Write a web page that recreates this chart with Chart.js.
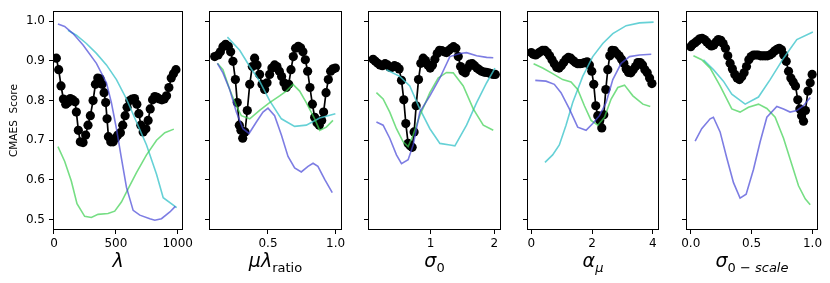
<!DOCTYPE html>
<html>
<head>
<meta charset="utf-8">
<script src="https://cdn.jsdelivr.net/npm/chart.js@4.4.1/dist/chart.umd.min.js"></script>
<style>
  html, body { margin: 0; padding: 0; background: #fff; }
  #wrap { position: relative; width: 830px; height: 283px; overflow: hidden; }
  #wrap canvas { position: absolute; top: 0; }
</style>
</head>
<body>
<div id="wrap"></div>
<script>
// ----- data -----
const yTicks = [0.5, 0.6, 0.7, 0.8, 0.9, 1.0];
const yTickLabels = ["0.5", "0.6", "0.7", "0.8", "0.9", "1.0"];
const yTitle = "CMAES  Score";

// lambda
const p1Ticks = [0, 500, 1000];
const p1TickLabels = ["0", "500", "1000"];
const p1BlackX = [19,38,57,76,95,113,132,151,170,181,197,213,235,256,275,294,316,335,354,373,389,405,418,429,440,459,478,497,516,537,556,575,591,613,632,651,670,686,702,721,743,761,778,797,815,834,853,872,891,910,929,948,966,986];
const p1BlackY = [0.907,0.878,0.837,0.804,0.791,0.795,0.805,0.802,0.797,0.771,0.725,0.696,0.694,0.713,0.738,0.762,0.800,0.841,0.857,0.855,0.841,0.820,0.795,0.754,0.709,0.696,0.696,0.705,0.713,0.719,0.738,0.762,0.783,0.800,0.804,0.805,0.791,0.767,0.738,0.721,0.729,0.750,0.779,0.802,0.810,0.808,0.804,0.802,0.804,0.812,0.833,0.857,0.868,0.878];
const p1CyanX = [113,181,262,343,424,505,586,667,748,829,883,992];
const p1CyanY = [0.977,0.965,0.944,0.919,0.890,0.853,0.804,0.746,0.688,0.614,0.555,0.530];
const p1GreenX = [32,86,140,186,248,302,356,437,491,545,599,667,748,829,896,969];
const p1GreenY = [0.684,0.647,0.597,0.540,0.508,0.505,0.513,0.515,0.521,0.544,0.577,0.618,0.663,0.700,0.719,0.728];
const p1PurpleX = [32,86,154,235,343,424,464,505,545,586,640,694,775,815,869,937,981];
const p1PurpleY = [0.993,0.987,0.969,0.940,0.894,0.845,0.795,0.729,0.655,0.581,0.523,0.511,0.502,0.498,0.502,0.519,0.533];

// mu lambda ratio
const p2Ticks = [0.5, 1.0];
const p2TickLabels = ["0.5", "1.0"];
const p2BlackX = [0.106,0.131,0.148,0.167,0.187,0.207,0.224,0.241,0.259,0.273,0.288,0.300,0.313,0.330,0.347,0.365,0.384,0.401,0.419,0.438,0.456,0.475,0.493,0.512,0.529,0.549,0.566,0.584,0.601,0.618,0.635,0.653,0.670,0.687,0.704,0.724,0.741,0.758,0.776,0.793,0.810,0.828,0.845,0.862,0.879,0.897,0.911,0.929,0.946,0.963,0.980,0.998];
const p2BlackY = [0.911,0.915,0.923,0.936,0.942,0.937,0.923,0.899,0.853,0.795,0.738,0.725,0.705,0.721,0.775,0.841,0.886,0.907,0.890,0.866,0.841,0.828,0.845,0.866,0.882,0.890,0.886,0.874,0.861,0.845,0.833,0.841,0.878,0.911,0.932,0.937,0.933,0.923,0.903,0.874,0.833,0.791,0.758,0.744,0.738,0.750,0.771,0.820,0.853,0.874,0.880,0.882];
const p2CyanX = [0.200,0.291,0.365,0.438,0.512,0.599,0.697,0.783,0.882,0.998];
const p2CyanY = [0.960,0.927,0.886,0.849,0.800,0.754,0.735,0.738,0.756,0.767];
const p2GreenX = [0.126,0.167,0.217,0.266,0.303,0.365,0.438,0.512,0.586,0.635,0.685,0.734,0.783,0.845,0.882,0.931,0.980];
const p2GreenY = [0.894,0.878,0.828,0.787,0.762,0.754,0.775,0.795,0.812,0.824,0.841,0.824,0.795,0.754,0.725,0.733,0.750];
const p2PurpleX = [0.126,0.167,0.217,0.266,0.315,0.360,0.414,0.463,0.500,0.549,0.599,0.648,0.697,0.746,0.796,0.833,0.869,0.919,0.975];
const p2PurpleY = [0.894,0.870,0.828,0.771,0.729,0.717,0.746,0.771,0.781,0.762,0.713,0.659,0.630,0.620,0.634,0.642,0.634,0.601,0.568];

// sigma 0
const p3Ticks = [1, 2];
const p3TickLabels = ["1", "2"];
const p3BlackX = [0.100,0.136,0.173,0.209,0.246,0.288,0.325,0.361,0.398,0.435,0.471,0.508,0.545,0.581,0.613,0.649,0.681,0.712,0.743,0.775,0.812,0.848,0.885,0.921,0.958,0.995,1.031,1.068,1.105,1.141,1.178,1.215,1.251,1.288,1.325,1.361,1.398,1.435,1.471,1.508,1.545,1.581,1.618,1.654,1.691,1.728,1.764,1.801,1.838,1.874,1.911,1.948,1.984,2.016];
const p3BlackY = [0.904,0.899,0.894,0.890,0.888,0.893,0.890,0.884,0.884,0.888,0.886,0.880,0.851,0.802,0.742,0.692,0.686,0.682,0.721,0.787,0.853,0.894,0.907,0.901,0.890,0.882,0.890,0.904,0.919,0.927,0.926,0.923,0.921,0.927,0.932,0.936,0.932,0.911,0.886,0.874,0.870,0.882,0.892,0.893,0.888,0.882,0.878,0.874,0.872,0.871,0.870,0.868,0.866,0.866];
const p3CyanX = [0.309,0.518,0.675,0.832,0.990,1.147,1.304,1.382,1.565,1.723,1.880,2.010];
const p3CyanY = [0.878,0.861,0.837,0.779,0.729,0.692,0.688,0.686,0.738,0.795,0.845,0.882];
const p3GreenX = [0.152,0.257,0.361,0.466,0.571,0.649,0.728,0.832,0.990,1.120,1.251,1.356,1.513,1.670,1.827,1.984];
const p3GreenY = [0.820,0.804,0.771,0.729,0.696,0.684,0.713,0.762,0.820,0.857,0.871,0.870,0.837,0.779,0.738,0.725];
const p3PurpleX = [0.152,0.257,0.361,0.466,0.545,0.649,0.728,0.832,0.990,1.147,1.304,1.461,1.565,1.723,1.880,1.984];
const p3PurpleY = [0.746,0.738,0.705,0.663,0.641,0.651,0.688,0.771,0.812,0.857,0.911,0.919,0.921,0.913,0.909,0.908];

// alpha mu
const p4Ticks = [0, 2, 4];
const p4TickLabels = ["0", "2", "4"];
const p4BlackX = [0.0,0.066,0.143,0.220,0.297,0.374,0.451,0.527,0.604,0.681,0.758,0.835,0.912,0.989,1.066,1.143,1.220,1.297,1.374,1.451,1.527,1.604,1.681,1.758,1.835,1.912,1.989,2.055,2.121,2.187,2.253,2.319,2.385,2.451,2.516,2.582,2.659,2.736,2.813,2.890,2.967,3.044,3.121,3.198,3.275,3.352,3.429,3.505,3.582,3.659,3.736,3.813,3.890,3.967];
const p4BlackY = [0.921,0.917,0.915,0.919,0.923,0.927,0.927,0.921,0.913,0.903,0.893,0.884,0.882,0.888,0.896,0.904,0.909,0.907,0.901,0.896,0.893,0.893,0.894,0.896,0.898,0.890,0.874,0.841,0.787,0.762,0.750,0.731,0.764,0.828,0.878,0.913,0.927,0.926,0.919,0.913,0.904,0.894,0.880,0.871,0.870,0.878,0.886,0.896,0.896,0.890,0.878,0.870,0.857,0.843];
const p4CyanX = [0.451,0.703,0.923,1.143,1.363,1.692,2.022,2.352,2.681,3.121,3.560,4.022];
const p4CyanY = [0.644,0.663,0.688,0.738,0.795,0.861,0.911,0.944,0.969,0.989,0.996,0.998];
const p4GreenX = [0.077,0.374,0.703,1.033,1.308,1.527,1.747,1.967,2.187,2.407,2.626,2.846,3.066,3.341,3.670,3.912];
const p4GreenY = [0.893,0.882,0.868,0.853,0.847,0.828,0.787,0.750,0.738,0.758,0.804,0.833,0.839,0.812,0.791,0.785];
const p4PurpleX = [0.132,0.484,0.758,0.978,1.253,1.527,1.802,2.022,2.242,2.462,2.681,2.956,3.231,3.560,3.945];
const p4PurpleY = [0.851,0.849,0.841,0.820,0.779,0.733,0.725,0.742,0.762,0.795,0.853,0.894,0.911,0.915,0.917];

// sigma 0 scale
const p5Ticks = [0, 0.5, 1.0];
const p5TickLabels = ["0.0", "0.5", "1.0"];
const p5BlackX = [0.0,0.016,0.036,0.055,0.074,0.093,0.112,0.132,0.151,0.170,0.189,0.208,0.227,0.247,0.266,0.285,0.304,0.323,0.342,0.362,0.381,0.400,0.419,0.438,0.458,0.477,0.496,0.515,0.534,0.553,0.573,0.592,0.611,0.630,0.649,0.668,0.688,0.707,0.726,0.745,0.764,0.784,0.803,0.822,0.841,0.860,0.879,0.896,0.910,0.926,0.942,0.962,0.981,0.997];
const p5BlackY = [0.936,0.942,0.946,0.951,0.956,0.957,0.954,0.948,0.942,0.938,0.940,0.948,0.954,0.952,0.944,0.932,0.913,0.894,0.880,0.866,0.857,0.853,0.860,0.870,0.886,0.903,0.911,0.915,0.915,0.915,0.913,0.913,0.913,0.913,0.915,0.919,0.925,0.929,0.932,0.928,0.915,0.899,0.874,0.857,0.847,0.837,0.802,0.779,0.762,0.748,0.775,0.824,0.845,0.866];
const p5CyanX = [0.104,0.186,0.268,0.337,0.447,0.556,0.652,0.762,0.871,1.003];
const p5CyanY = [0.903,0.878,0.849,0.816,0.791,0.809,0.853,0.907,0.954,0.973];
const p5GreenX = [0.022,0.090,0.159,0.241,0.337,0.405,0.474,0.556,0.625,0.693,0.762,0.830,0.885,0.940,0.981];
const p5GreenY = [0.913,0.903,0.882,0.837,0.779,0.771,0.783,0.791,0.780,0.758,0.705,0.639,0.585,0.552,0.537];
const p5PurpleX = [0.036,0.090,0.159,0.186,0.241,0.296,0.351,0.405,0.455,0.515,0.570,0.625,0.707,0.762,0.816,0.871,0.926,0.981];
const p5PurpleY = [0.698,0.729,0.754,0.758,0.721,0.655,0.593,0.554,0.564,0.626,0.696,0.758,0.785,0.779,0.771,0.775,0.787,0.808];

// axis titles: [text, isSubscript, isItalic]
const p1Label = [["λ", false, true]];
const p2Label = [["μλ", false, true], ["ratio", true, false]];
const p3Label = [["σ", false, true], ["0", true, false]];
const p4Label = [["α", false, true], ["μ", true, true]];
const p5Label = [["σ", false, true], ["0", true, false], [" − ", true, false], ["scale", true, true]];

// ----- layout -----
const FONT = '"DejaVu Sans", sans-serif';
const PLOT_TOP = 7;
const PLOT_BOTTOM = 230;
const CANVAS_H = 283;

const CYAN = "rgba(64, 198, 204, 0.8)";
const GREEN = "rgba(60, 208, 80, 0.7)";
const PURPLE = "rgba(70, 70, 215, 0.7)";

Chart.defaults.font.family = FONT;
Chart.defaults.color = "#000";

const panels = [
  { left: 53, width: 130, xMin: -8, xMax: 1043, ticks: p1Ticks, tickLabels: p1TickLabels, label: p1Label,
    black: [p1BlackX, p1BlackY], cyan: [p1CyanX, p1CyanY], green: [p1GreenX, p1GreenY], purple: [p1PurpleX, p1PurpleY] },
  { left: 209, width: 133, xMin: 0.064, xMax: 1.047, ticks: p2Ticks, tickLabels: p2TickLabels, label: p2Label,
    black: [p2BlackX, p2BlackY], cyan: [p2CyanX, p2CyanY], green: [p2GreenX, p2GreenY], purple: [p2PurpleX, p2PurpleY] },
  { left: 368, width: 133, xMin: 0.02, xMax: 2.105, ticks: p3Ticks, tickLabels: p3TickLabels, label: p3Label,
    black: [p3BlackX, p3BlackY], cyan: [p3CyanX, p3CyanY], green: [p3GreenX, p3GreenY], purple: [p3PurpleX, p3PurpleY] },
  { left: 527, width: 132, xMin: -0.14, xMax: 4.2, ticks: p4Ticks, tickLabels: p4TickLabels, label: p4Label,
    black: [p4BlackX, p4BlackY], cyan: [p4CyanX, p4CyanY], green: [p4GreenX, p4GreenY], purple: [p4PurpleX, p4PurpleY] },
  { left: 686, width: 132, xMin: -0.039, xMax: 1.045, ticks: p5Ticks, tickLabels: p5TickLabels, label: p5Label,
    black: [p5BlackX, p5BlackY], cyan: [p5CyanX, p5CyanY], green: [p5GreenX, p5GreenY], purple: [p5PurpleX, p5PurpleY] }
];

// box around the plot area, like matplotlib spines
const framePlugin = {
  id: "frame",
  afterDraw(chart) {
    const { ctx, chartArea } = chart;
    ctx.save();
    ctx.strokeStyle = "#000";
    ctx.lineWidth = 1;
    ctx.strokeRect(Math.round(chartArea.left) + 0.5, Math.round(chartArea.top) + 0.5,
      Math.round(chartArea.right - chartArea.left) - 1, Math.round(chartArea.bottom - chartArea.top) - 1);
    ctx.restore();
  }
};

// x axis title with subscripts
const xLabelPlugin = {
  id: "xlabel",
  afterDraw(chart, args, opts) {
    const { ctx, chartArea } = chart;
    const parts = opts.parts || [];
    const fontOf = p => (p[2] ? "italic " : "") + (p[1] ? 13 : 19) + "px " + FONT;
    ctx.save();
    ctx.fillStyle = "#000";
    ctx.textBaseline = "alphabetic";
    ctx.textAlign = "left";
    let total = 0;
    const widths = parts.map(p => {
      ctx.font = fontOf(p);
      const w = ctx.measureText(p[0]).width;
      total += w;
      return w;
    });
    let x = (chartArea.left + chartArea.right) / 2 - total / 2;
    parts.forEach((p, k) => {
      ctx.font = fontOf(p);
      ctx.fillText(p[0], x, p[1] ? 272 : 267);
      x += widths[k];
    });
    ctx.restore();
  }
};

function series(xs, ys) {
  return xs.map((x, k) => ({ x: x, y: ys[k] }));
}

function colorLine(pair, color) {
  return {
    data: series(pair[0], pair[1]),
    borderColor: color,
    borderWidth: 1.6,
    pointRadius: 0,
    tension: 0,
    fill: false
  };
}

const wrap = document.getElementById("wrap");

panels.forEach((p, i) => {
  const axisW = i === 0 ? p.left : 12;
  const padRight = 14;
  const cw = axisW + p.width + padRight;
  const canvas = document.createElement("canvas");
  canvas.width = cw;
  canvas.height = CANVAS_H;
  canvas.style.width = cw + "px";
  canvas.style.height = CANVAS_H + "px";
  canvas.style.left = (p.left - axisW) + "px";
  wrap.appendChild(canvas);

  new Chart(canvas, {
    type: "line",
    data: {
      datasets: [
        colorLine(p.purple, PURPLE),
        colorLine(p.green, GREEN),
        colorLine(p.cyan, CYAN),
        {
          data: series(p.black[0], p.black[1]),
          borderColor: "#000",
          borderWidth: 1.7,
          pointRadius: 4.6,
          pointHoverRadius: 4.6,
          pointBackgroundColor: "#000",
          pointBorderColor: "#000",
          pointBorderWidth: 0,
          tension: 0,
          fill: false
        }
      ]
    },
    options: {
      responsive: false,
      devicePixelRatio: 1,
      animation: false,
      events: [],
      layout: { padding: { top: PLOT_TOP, right: padRight, bottom: 0, left: 0 } },
      plugins: {
        legend: { display: false },
        tooltip: { enabled: false },
        xlabel: { parts: p.label }
      },
      scales: {
        x: {
          type: "linear",
          min: p.xMin,
          max: p.xMax,
          afterBuildTicks: scale => { scale.ticks = p.ticks.map(v => ({ value: v })); },
          afterFit: scale => { scale.height = CANVAS_H - PLOT_BOTTOM; },
          ticks: {
            font: { size: 12 },
            color: "#000",
            padding: 3,
            maxRotation: 0,
            autoSkip: false,
            callback: (v, k) => p.tickLabels[k]
          },
          grid: { drawOnChartArea: false, drawTicks: true, tickLength: 4, color: "#000", tickColor: "#000" },
          border: { display: false }
        },
        y: {
          type: "linear",
          min: 0.4735,
          max: 1.0255,
          afterBuildTicks: scale => { scale.ticks = yTicks.map(v => ({ value: v })); },
          afterFit: scale => { scale.width = axisW; },
          ticks: {
            font: { size: 12 },
            color: "#000",
            padding: 4,
            autoSkip: false,
            callback: (v, k) => (i === 0 ? yTickLabels[k] : "")
          },
          grid: { drawOnChartArea: false, drawTicks: true, tickLength: 4, color: "#000", tickColor: "#000" },
          border: { display: false },
          title: {
            display: i === 0,
            text: yTitle,
            color: "#000",
            font: { size: 10.5 },
            padding: { top: 7.5, bottom: 0 }
          }
        }
      }
    },
    plugins: [framePlugin, xLabelPlugin]
  });
});
</script>
</body>
</html>
